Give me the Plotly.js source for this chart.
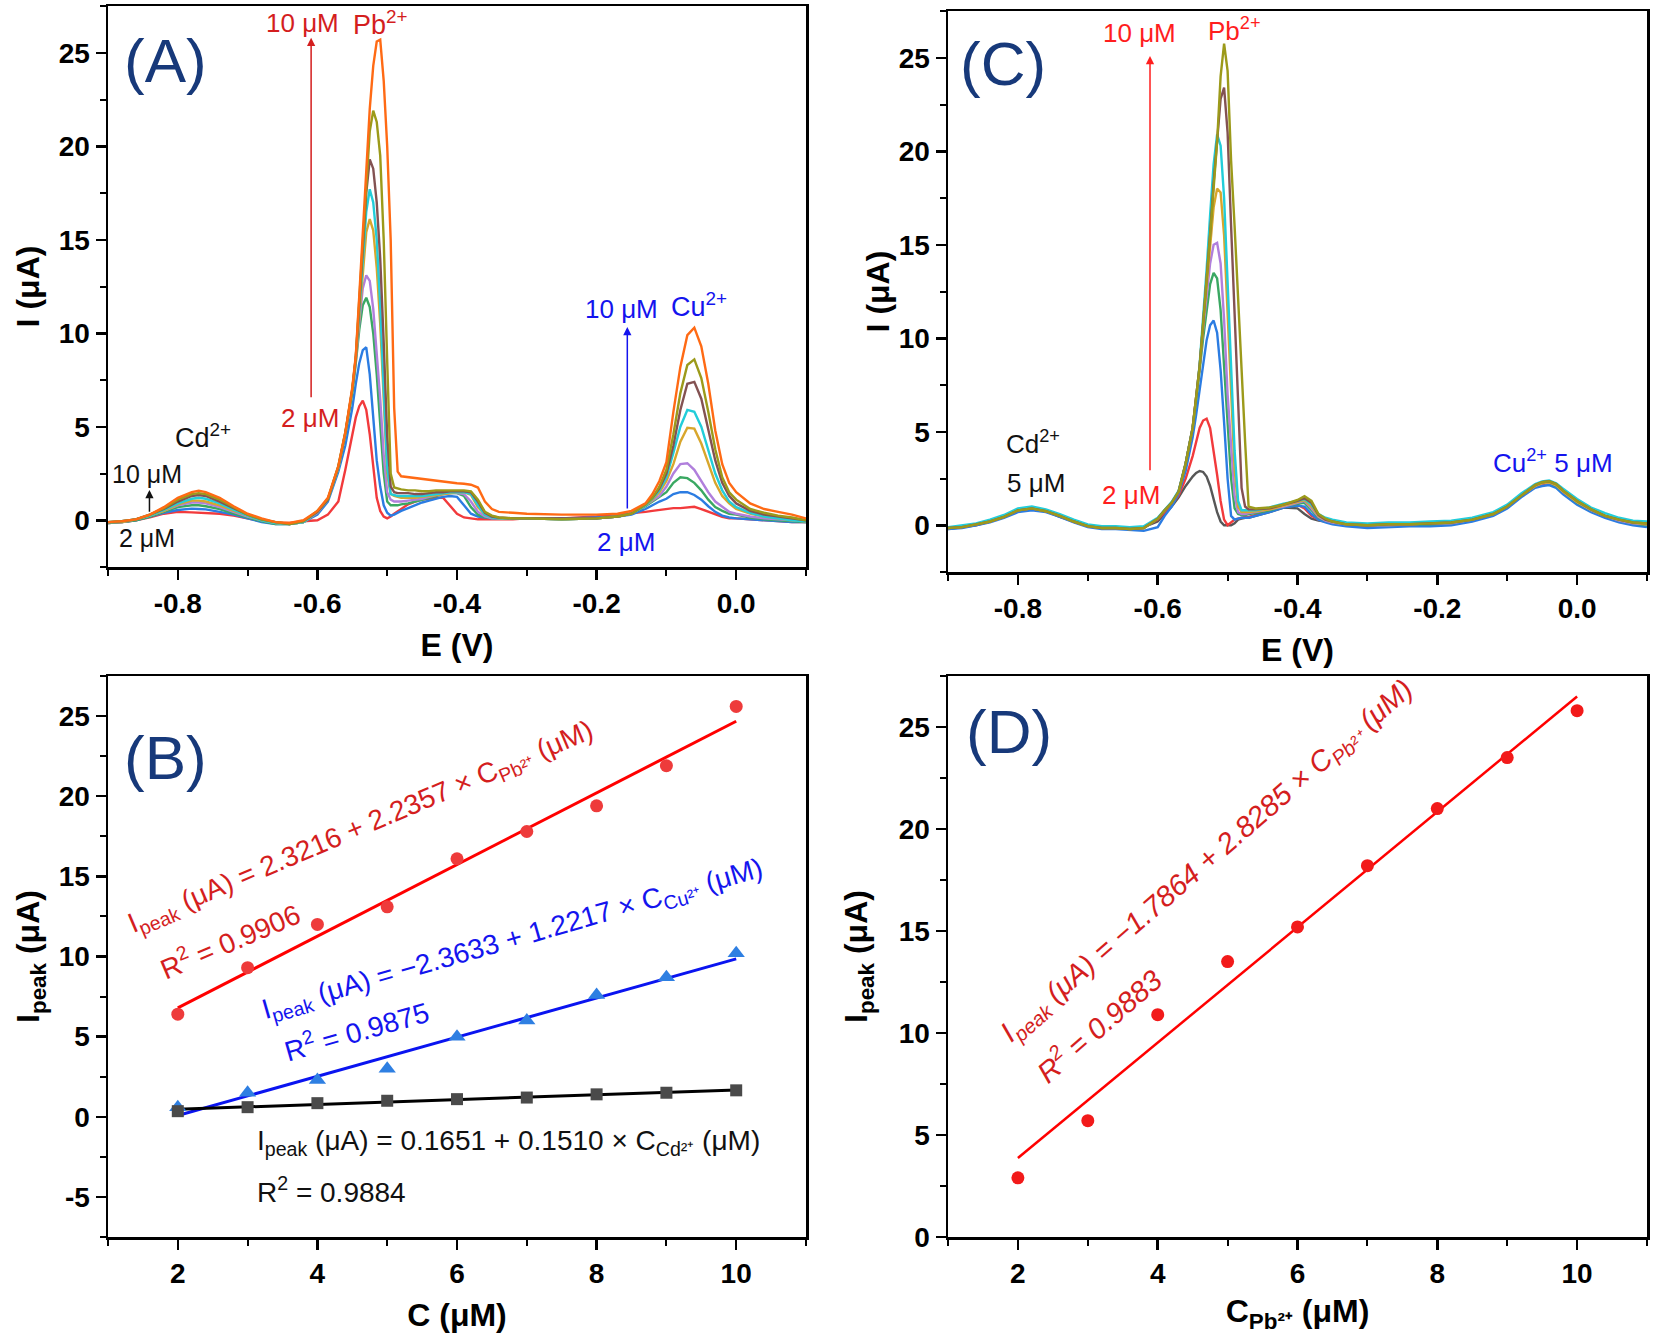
<!DOCTYPE html>
<html><head><meta charset="utf-8">
<script src="https://cdn.plot.ly/plotly-3.0.1.min.js"></script>
<style>html,body{margin:0;padding:0;background:#fff}#chart{width:1654px;height:1340px}</style>
</head><body><div id="chart"></div>
<script>
// ---------- Panel A: SWASV curves, simultaneous (2-10 uM) ----------
const A_E = [
 -0.90,-0.88,-0.86,-0.84,-0.82,-0.80,-0.78,-0.77,-0.76,-0.74,-0.72,-0.70,-0.68,-0.66,-0.64,-0.62,
 -0.60,-0.585,-0.57,-0.56,-0.55,-0.545,-0.54,-0.535,-0.53,-0.525,-0.52,-0.515,-0.51,-0.505,-0.50,-0.495,-0.49,-0.485,-0.48,
 -0.47,-0.46,-0.45,-0.44,-0.43,-0.42,-0.41,-0.40,-0.39,-0.38,-0.37,-0.36,-0.35,-0.34,-0.32,-0.30,
 -0.25,-0.20,-0.17,
 -0.15,-0.13,-0.12,-0.11,-0.10,-0.09,-0.08,-0.07,-0.06,-0.05,-0.04,-0.03,-0.02,-0.01,0.00,0.02,0.04,0.06,0.08,0.10];
const A_I2 = [
 -0.15,-0.1,0.0,0.15,0.35,0.45,0.42,0.4,0.38,0.35,0.25,0.1,-0.05,-0.15,-0.15,-0.05,
 0.0,0.3,1.0,2.7,4.6,5.5,6.1,6.4,5.9,4.6,2.9,1.2,0.5,0.2,0.1,0.2,0.35,0.5,0.6,
 0.85,1.0,1.1,1.15,1.2,1.2,0.8,0.35,0.15,0.1,0.05,0.05,0.05,0.05,0.05,0.1,
 0.1,0.2,0.3,
 0.35,0.45,0.5,0.55,0.6,0.65,0.65,0.7,0.72,0.6,0.45,0.3,0.18,0.1,0.1,0.05,0.0,-0.05,-0.1,-0.1];
const A_I3 = [
 -0.15,-0.1,0.0,0.2,0.4,0.55,0.62,0.6,0.58,0.45,0.3,0.1,-0.1,-0.2,-0.2,-0.1,
 0.3,1.0,2.6,4.0,6.0,7.3,8.4,9.1,9.25,7.8,5.7,3.2,1.8,0.8,0.4,0.25,0.3,0.4,0.5,
 0.65,0.8,0.95,1.05,1.15,1.25,1.3,1.25,0.8,0.35,0.2,0.15,0.1,0.1,0.1,0.1,
 0.1,0.15,0.2,
 0.3,0.6,0.8,1.0,1.15,1.4,1.5,1.5,1.35,1.1,0.75,0.45,0.25,0.15,0.1,0.05,0.0,-0.05,-0.1,-0.1];
const A_I4 = [
 -0.15,-0.1,0.0,0.2,0.45,0.7,0.8,0.8,0.75,0.6,0.35,0.15,-0.05,-0.2,-0.2,-0.1,
 0.4,1.1,2.8,4.6,6.8,8.4,10.2,11.5,11.9,11.4,10.0,7.8,5.2,2.5,1.0,0.8,0.8,0.8,0.85,
 0.9,1.0,1.1,1.2,1.3,1.4,1.45,1.45,1.3,0.7,0.3,0.15,0.1,0.1,0.1,0.1,
 0.05,0.1,0.2,
 0.35,0.75,1.0,1.25,1.5,2.0,2.3,2.25,2.0,1.6,1.1,0.7,0.5,0.35,0.3,0.15,0.05,0.0,-0.05,-0.1];
const A_I5 = [
 -0.1,-0.1,0.05,0.25,0.5,0.8,0.95,0.95,0.9,0.7,0.45,0.2,0.0,-0.15,-0.2,-0.1,
 0.4,1.1,2.8,4.6,6.9,8.5,10.6,12.4,13.1,12.8,11.3,9.0,6.5,3.5,1.5,1.1,1.0,1.0,1.0,
 1.05,1.1,1.15,1.25,1.35,1.4,1.45,1.45,1.4,1.0,0.45,0.2,0.1,0.1,0.1,0.1,
 0.05,0.1,0.2,
 0.35,0.8,1.05,1.3,1.8,2.5,3.0,3.05,2.7,2.1,1.5,1.0,0.7,0.45,0.35,0.2,0.1,0.05,0.0,-0.05];
const A_I6 = [
 -0.1,-0.1,0.05,0.25,0.5,0.85,1.05,1.05,1.0,0.8,0.5,0.25,0.0,-0.15,-0.2,-0.1,
 0.45,1.1,2.8,4.6,6.9,8.6,11.0,13.5,15.4,16.1,15.5,13.5,10.5,6.5,2.5,1.4,1.3,1.25,1.2,
 1.2,1.2,1.25,1.3,1.35,1.4,1.45,1.5,1.5,1.35,0.7,0.3,0.15,0.1,0.1,0.1,
 0.05,0.1,0.2,
 0.35,0.8,1.1,1.5,2.1,3.0,4.2,4.95,4.9,4.1,3.0,2.0,1.3,0.9,0.6,0.35,0.2,0.1,0.0,-0.05];
const A_I7 = [
 -0.1,-0.05,0.05,0.25,0.55,0.9,1.15,1.2,1.15,0.9,0.55,0.25,0.0,-0.15,-0.2,-0.1,
 0.45,1.1,2.8,4.6,6.9,8.6,11.2,14.0,16.5,17.7,17.0,15.0,11.5,7.0,2.8,1.4,1.35,1.3,1.3,
 1.3,1.3,1.3,1.35,1.4,1.45,1.5,1.5,1.5,1.4,0.8,0.3,0.15,0.1,0.1,0.1,
 0.05,0.1,0.2,
 0.35,0.8,1.15,1.6,2.3,3.6,5.0,5.9,5.8,5.0,3.8,2.5,1.6,1.0,0.7,0.4,0.2,0.1,0.0,-0.05];
const A_I8 = [
 -0.1,-0.05,0.05,0.3,0.6,1.0,1.3,1.35,1.3,1.0,0.65,0.3,0.05,-0.1,-0.2,-0.05,
 0.45,1.1,2.85,4.65,7.0,8.7,11.5,14.5,17.5,19.3,18.8,17.0,14.0,9.5,4.5,1.8,1.5,1.45,1.45,
 1.45,1.4,1.4,1.45,1.5,1.5,1.55,1.55,1.55,1.5,1.0,0.4,0.2,0.15,0.1,0.1,
 0.1,0.1,0.2,
 0.35,0.85,1.2,1.7,2.5,4.0,5.9,7.3,7.4,6.5,4.9,3.2,2.0,1.3,0.9,0.5,0.3,0.2,0.1,0.0];
const A_I9 = [
 -0.1,-0.05,0.05,0.3,0.65,1.1,1.4,1.45,1.4,1.1,0.7,0.3,0.05,-0.1,-0.2,-0.05,
 0.5,1.15,2.9,4.7,7.0,8.7,11.8,14.8,18.0,20.8,21.9,21.3,19.5,15.0,8.5,2.5,1.75,1.7,1.65,
 1.6,1.6,1.55,1.55,1.6,1.6,1.6,1.6,1.6,1.55,1.1,0.45,0.25,0.15,0.1,0.1,
 0.05,0.1,0.2,
 0.35,0.85,1.2,1.8,2.7,4.6,6.8,8.3,8.6,7.6,5.8,3.8,2.3,1.5,1.1,0.6,0.4,0.25,0.15,0.0];
const A_I10 = [
 -0.1,-0.05,0.05,0.3,0.7,1.2,1.5,1.58,1.5,1.2,0.75,0.35,0.1,-0.1,-0.15,0.0,
 0.5,1.2,2.9,4.7,7.1,8.8,12.0,15.5,18.5,22.0,24.3,25.6,25.7,23.5,20.0,15.0,6.0,2.6,2.35,
 2.3,2.25,2.2,2.15,2.1,2.05,2.0,1.98,1.95,1.9,1.75,1.0,0.6,0.45,0.4,0.35,
 0.3,0.3,0.35,
 0.5,0.9,1.4,2.1,3.1,5.8,8.2,9.9,10.3,9.3,7.3,4.8,3.0,2.0,1.5,0.9,0.6,0.45,0.3,0.1];

// ---------- Panel C: SWASV curves, Pb varied (2-10 uM), Cd & Cu 5 uM ----------
const C_E = [
 -0.90,-0.88,-0.86,-0.84,-0.82,-0.80,-0.78,-0.76,-0.74,-0.72,-0.70,-0.68,-0.66,-0.64,-0.62,
 -0.60,-0.59,-0.58,-0.57,-0.56,-0.55,-0.545,-0.54,-0.535,-0.53,-0.525,-0.52,-0.515,-0.51,-0.505,-0.50,-0.495,-0.49,-0.485,-0.48,-0.475,-0.47,
 -0.46,-0.44,-0.42,-0.40,-0.39,-0.38,-0.37,-0.36,-0.35,
 -0.33,-0.30,-0.27,-0.24,-0.21,-0.18,-0.15,-0.12,
 -0.10,-0.08,-0.06,-0.05,-0.04,-0.03,-0.02,0.00,0.02,0.04,0.06,0.08,0.10];
const C_I2 = [
 -0.2,-0.1,0.0,0.2,0.45,0.75,0.85,0.75,0.45,0.2,-0.05,-0.15,-0.1,-0.15,-0.1,
 0.2,0.6,1.0,1.5,2.1,2.6,2.8,2.9,2.85,2.6,2.1,1.4,0.7,0.2,0.0,0.0,0.0,0.1,0.3,0.35,0.4,0.4,
 0.5,0.7,0.95,0.9,0.6,0.35,0.25,0.2,0.15,
 0.05,-0.05,0.0,0.05,0.05,0.1,0.3,0.6,
 1.0,1.6,2.1,2.25,2.3,2.1,1.8,1.2,0.8,0.5,0.25,0.1,0.0];
const C_I3 = [
 -0.15,-0.1,0.05,0.2,0.45,0.8,0.9,0.75,0.5,0.2,-0.05,-0.1,-0.15,-0.15,-0.1,
 0.3,0.7,1.1,1.6,2.5,3.7,4.5,5.2,5.6,5.7,5.2,4.0,2.7,1.3,0.3,0.0,0.15,0.3,0.35,0.4,0.45,0.45,
 0.55,0.75,1.0,1.1,0.9,0.5,0.3,0.2,0.15,
 0.05,0.0,0.0,0.05,0.05,0.1,0.3,0.6,
 1.0,1.6,2.1,2.2,2.25,2.1,1.75,1.2,0.8,0.5,0.25,0.1,0.0];
const C_I4 = [
 -0.2,-0.15,0.0,0.15,0.4,0.7,0.8,0.7,0.45,0.15,-0.1,-0.2,-0.2,-0.25,-0.3,
 -0.1,0.5,1.0,1.7,2.9,4.7,5.9,7.3,8.7,9.9,10.7,10.95,10.3,8.3,5.5,2.5,0.5,0.3,0.35,0.4,0.4,0.4,
 0.5,0.7,0.95,1.05,1.0,0.6,0.3,0.15,0.05,
 -0.05,-0.15,-0.1,-0.05,-0.05,0.0,0.2,0.5,
 0.9,1.5,2.0,2.1,2.15,2.0,1.65,1.1,0.7,0.4,0.15,0.0,-0.1];
const C_I5 = [
 -0.15,-0.1,0.05,0.2,0.45,0.8,0.9,0.75,0.5,0.2,-0.05,-0.15,-0.15,-0.2,-0.15,
 0.35,0.8,1.2,1.8,3.3,5.2,6.6,8.3,10.0,11.6,12.9,13.5,13.2,11.5,8.5,5.0,2.5,0.9,0.6,0.55,0.55,0.6,
 0.65,0.8,1.0,1.15,1.2,0.8,0.4,0.25,0.15,
 0.05,0.0,0.0,0.05,0.05,0.1,0.3,0.6,
 1.0,1.6,2.1,2.25,2.3,2.1,1.8,1.2,0.8,0.5,0.25,0.1,0.0];
const C_I6 = [
 -0.15,-0.1,0.05,0.2,0.45,0.8,0.9,0.75,0.5,0.2,-0.05,-0.15,-0.15,-0.2,-0.15,
 0.35,0.8,1.2,1.8,3.3,5.2,6.7,8.5,10.5,12.4,14.0,15.0,15.1,14.0,11.0,7.0,4.0,1.6,0.7,0.6,0.6,0.65,
 0.7,0.85,1.0,1.2,1.3,0.9,0.45,0.25,0.15,
 0.05,0.0,0.0,0.05,0.1,0.1,0.3,0.6,
 1.0,1.6,2.1,2.25,2.3,2.15,1.8,1.25,0.8,0.5,0.25,0.1,0.05];
const C_I7 = [
 -0.15,-0.1,0.05,0.2,0.45,0.8,0.9,0.75,0.5,0.2,-0.05,-0.15,-0.15,-0.2,-0.15,
 0.35,0.8,1.2,1.8,3.3,5.2,6.7,8.5,10.7,12.9,15.2,17.0,18.0,17.8,15.5,11.5,7.0,3.0,1.0,0.7,0.7,0.7,
 0.75,0.85,1.05,1.25,1.35,1.0,0.5,0.3,0.2,
 0.05,0.0,0.05,0.05,0.1,0.15,0.3,0.6,
 1.0,1.6,2.1,2.25,2.3,2.15,1.8,1.25,0.85,0.5,0.3,0.15,0.05];
const C_I8 = [
 -0.1,0.0,0.1,0.3,0.55,0.9,1.0,0.85,0.6,0.3,0.05,-0.05,-0.05,-0.1,-0.05,
 0.4,0.85,1.25,1.85,3.3,5.2,6.7,8.6,10.9,13.7,16.6,19.3,20.9,20.3,17.5,13.0,9.0,4.0,1.3,0.8,0.8,0.8,
 0.8,0.95,1.15,1.3,1.4,1.1,0.6,0.4,0.3,
 0.15,0.1,0.15,0.15,0.2,0.25,0.4,0.7,
 1.1,1.7,2.2,2.35,2.4,2.25,1.95,1.4,0.95,0.65,0.4,0.25,0.2];
const C_I9 = [
 -0.15,-0.1,0.05,0.2,0.45,0.8,0.9,0.75,0.5,0.2,-0.05,-0.15,-0.15,-0.2,-0.15,
 0.35,0.8,1.2,1.8,3.3,5.2,6.7,8.5,10.8,13.0,15.6,18.3,20.8,22.8,23.4,21.0,16.0,11.0,6.0,2.0,1.0,0.85,
 0.85,0.9,1.1,1.3,1.45,1.2,0.55,0.3,0.2,
 0.05,0.0,0.05,0.05,0.1,0.15,0.3,0.6,
 1.0,1.6,2.15,2.3,2.35,2.2,1.85,1.3,0.85,0.5,0.3,0.15,0.1];
const C_I10 = [
 -0.15,-0.1,0.05,0.2,0.45,0.8,0.9,0.75,0.5,0.2,-0.05,-0.15,-0.15,-0.2,-0.15,
 0.35,0.8,1.2,1.8,3.3,5.2,6.7,8.5,10.8,13.0,15.5,18.0,20.5,24.0,25.75,24.3,19.5,16.0,12.0,8.5,4.5,1.0,
 0.9,0.95,1.1,1.35,1.55,1.3,0.6,0.35,0.2,
 0.05,0.0,0.05,0.05,0.1,0.15,0.3,0.6,
 1.0,1.6,2.15,2.3,2.35,2.2,1.85,1.3,0.85,0.5,0.3,0.15,0.1];

// ---------- Panel B: calibration (simultaneous) ----------
const conc = [2,3,4,5,6,7,8,9,10];
const B_Pb = [6.4,9.3,12.0,13.1,16.1,17.8,19.4,21.9,25.6];
const B_Cu = [0.6,1.5,2.3,3.0,5.0,6.0,7.6,8.7,10.2];
const B_Cd = [0.35,0.6,0.85,1.0,1.1,1.2,1.4,1.5,1.65];
const fitPb_B = [2.3216, 2.2357];
const fitCu_B = [-2.3633, 1.2217];
const fitCd_B = [0.1651, 0.1510];
// ---------- Panel D: calibration (Pb only) ----------
const D_Pb = [2.9,5.7,10.9,13.5,15.2,18.2,21.0,23.5,25.8];
const fitPb_D = [-1.7864, 2.8285];
const fitRange = [2, 10];

// ---------- tick labels ----------
const E_tickVals = [-0.8,-0.6,-0.4,-0.2,0.0];
const E_tickText = ['-0.8','-0.6','-0.4','-0.2','0.0'];
const I_tickVals = [0,5,10,15,20,25];
const I_tickText = ['0','5','10','15','20','25'];
const IB_tickVals = [-5,0,5,10,15,20,25];
const IB_tickText = ['-5','0','5','10','15','20','25'];
const C_tickVals = [2,4,6,8,10];
const C_tickText = ['2','4','6','8','10'];

const curveColorsA = ['#F23A3C','#2B7CE2','#3AA862','#B07FDC','#D8A62C','#22CDD9','#835252','#9C9A1A','#FF6A14'];
const curveColorsC = ['#575757','#F23A3C','#2B7CE2','#3AA862','#B07FDC','#D8A62C','#22CDD9','#835252','#9C9A1A'];
const A_sets = [A_I2,A_I3,A_I4,A_I5,A_I6,A_I7,A_I8,A_I9,A_I10];
const C_sets = [C_I2,C_I3,C_I4,C_I5,C_I6,C_I7,C_I8,C_I9,C_I10];

const F = 'Liberation Sans, Arial, Helvetica, sans-serif';
const traces = [];
A_sets.forEach((ys,i)=>traces.push({x:A_E,y:ys,xaxis:'x',yaxis:'y',mode:'lines',line:{color:curveColorsA[i],width:2.4},hoverinfo:'skip'}));
C_sets.forEach((ys,i)=>traces.push({x:C_E,y:ys,xaxis:'x2',yaxis:'y2',mode:'lines',line:{color:curveColorsC[i],width:2.4},hoverinfo:'skip'}));

function fitLine(c){ return fitRange.map(x=>c[0]+c[1]*x); }
// B
traces.push({x:fitRange,y:fitLine(fitPb_B),xaxis:'x3',yaxis:'y3',mode:'lines',line:{color:'#FF0000',width:3}});
traces.push({x:fitRange,y:fitLine(fitCu_B),xaxis:'x3',yaxis:'y3',mode:'lines',line:{color:'#0A14F0',width:3}});
traces.push({x:fitRange,y:fitLine(fitCd_B),xaxis:'x3',yaxis:'y3',mode:'lines',line:{color:'#000000',width:3}});
traces.push({x:conc,y:B_Pb,xaxis:'x3',yaxis:'y3',mode:'markers',marker:{symbol:'circle',size:13,color:'#EE3B3B'}});
traces.push({x:conc,y:B_Cu,xaxis:'x3',yaxis:'y3',mode:'markers',marker:{symbol:'triangle-up',size:15,color:'#2E7FE2'}});
traces.push({x:conc,y:B_Cd,xaxis:'x3',yaxis:'y3',mode:'markers',marker:{symbol:'square',size:12,color:'#4A4A4A'}});
// D
traces.push({x:fitRange,y:fitLine(fitPb_D),xaxis:'x4',yaxis:'y4',mode:'lines',line:{color:'#FF0000',width:2.5}});
traces.push({x:conc,y:D_Pb,xaxis:'x4',yaxis:'y4',mode:'markers',marker:{symbol:'circle',size:13,color:'#F21A1A'}});

function axis(extra){
  return Object.assign({
    showline:true, linecolor:'black', linewidth:2.5, mirror:true,
    ticks:'outside', ticklen:10, tickwidth:2.5, tickcolor:'black',
    showgrid:false, zeroline:false, fixedrange:true,
    tickfont:{family:F,size:28,color:'black',weight:'bold'},
  }, extra);
}
function ttl(text, standoff){
  return {text:text, standoff:standoff, font:{family:F,size:32,color:'black',weight:'bold'}};
}
const minorE = {tickmode:'linear',tick0:0,dtick:0.1,ticks:'outside',ticklen:6,tickwidth:2,tickcolor:'black'};
const minorI = {tickmode:'linear',tick0:0,dtick:2.5,ticks:'outside',ticklen:6,tickwidth:2,tickcolor:'black'};
const minorC = {tickmode:'linear',tick0:0,dtick:1,ticks:'outside',ticklen:6,tickwidth:2,tickcolor:'black'};

const L = [108/1654, 806/1654], R = [948/1654, 1647/1654];
const layout = {
  width:1654, height:1340, margin:{l:0,r:0,t:0,b:0},
  paper_bgcolor:'white', plot_bgcolor:'white', showlegend:false,
  font:{family:F,color:'black'},
  xaxis: axis({domain:L, anchor:'y', range:[-0.9,0.1], tickmode:'array', tickvals:E_tickVals, ticktext:E_tickText, minor:minorE, title:ttl('E (V)',16)}),
  yaxis: axis({domain:[1-567/1340,1-6/1340], anchor:'x', range:[-2.5,27.5], tickmode:'array', tickvals:I_tickVals, ticktext:I_tickText, minor:minorI, title:ttl('I (μA)',10)}),
  xaxis2: axis({domain:R, anchor:'y2', range:[-0.9,0.1], tickmode:'array', tickvals:E_tickVals, ticktext:E_tickText, minor:minorE, title:ttl('E (V)',16)}),
  yaxis2: axis({domain:[1-572/1340,1-11/1340], anchor:'x2', range:[-2.5,27.5], tickmode:'array', tickvals:I_tickVals, ticktext:I_tickText, minor:minorI, title:ttl('I (μA)',0)}),
  xaxis3: axis({domain:L, anchor:'y3', range:[1,11], tickmode:'array', tickvals:C_tickVals, ticktext:C_tickText, minor:minorC, title:ttl('C (μM)',16)}),
  yaxis3: axis({domain:[1-1237/1340,1-676/1340], anchor:'x3', range:[-7.5,27.5], tickmode:'array', tickvals:IB_tickVals, ticktext:IB_tickText, minor:minorI, title:ttl('I<sub>peak</sub> (μA)',10)}),
  xaxis4: axis({domain:R, anchor:'y4', range:[1,11], tickmode:'array', tickvals:C_tickVals, ticktext:C_tickText, minor:minorC, title:ttl('C<sub>Pb²⁺</sub> (μM)',12)}),
  yaxis4: axis({domain:[1-1237/1340,1-676/1340], anchor:'x4', range:[0,27.5], tickmode:'array', tickvals:I_tickVals, ticktext:I_tickText, minor:minorI, title:ttl('I<sub>peak</sub> (μA)',22)}),
  annotations:[]
};

const RED_A='#D41E1E', RED_C='#FF1E1E', BLUE='#1414EE', NAVY='#17397A';
function txt(xr,yr,x,y,text,color,size,extra){
  return Object.assign({xref:xr,yref:yr,x:x,y:y,text:text,showarrow:false,
    font:{family:F,size:size,color:color},xanchor:'center',yanchor:'middle'},extra||{});
}
function arrow(xr,yr,x,y0,y1,color,w){
  return {xref:xr,yref:yr,axref:xr,ayref:yr,x:x,y:y1,ax:x,ay:y0,text:'',showarrow:true,
    arrowhead:2,arrowsize:1.1,arrowwidth:w,arrowcolor:color};
}
const A = layout.annotations;
// Panel A
A.push(txt('x','y',-0.817,24.6,'(A)',NAVY,62));
A.push(txt('x','y',-0.622,26.6,'10 μM',RED_A,26));
A.push(txt('x','y',-0.510,26.6,'Pb<sup>2+</sup>',RED_A,27));
A.push(arrow('x','y',-0.609,6.5,25.8,RED_A,1.5));
A.push(txt('x','y',-0.61,5.45,'2 μM',RED_A,26));
A.push(txt('x','y',-0.764,4.5,'Cd<sup>2+</sup>',"#111",27));
A.push(txt('x','y',-0.8445,2.45,'10 μM','#111',25));
A.push(arrow('x','y',-0.8406,0.37,1.62,'#111',1.5));
A.push(txt('x','y',-0.8445,-0.96,'2 μM','#111',25));
A.push(arrow('x','y',-0.156,0.55,10.34,BLUE,1.5));
A.push(txt('x','y',-0.165,11.3,'10 μM',BLUE,26));
A.push(txt('x','y',-0.053,11.5,'Cu<sup>2+</sup>',BLUE,27));
A.push(txt('x','y',-0.158,-1.14,'2 μM',BLUE,26));
// Panel C
A.push(txt('x2','y2',-0.8215,24.67,'(C)',NAVY,62));
A.push(txt('x2','y2',-0.6266,26.3,'10 μM',RED_C,26));
A.push(txt('x2','y2',-0.4905,26.5,'Pb<sup>2+</sup>',RED_C,26));
A.push(arrow('x2','y2',-0.611,2.86,25.1,RED_C,1.5));
A.push(txt('x2','y2',-0.6386,1.62,'2 μM',RED_C,26));
A.push(txt('x2','y2',-0.7785,4.4,'Cd<sup>2+</sup>','#111',26));
A.push(txt('x2','y2',-0.7747,2.24,'5 μM','#111',26));
A.push(txt('x2','y2',-0.0345,3.4,'Cu<sup>2+</sup> 5 μM',BLUE,26));
// Panel B
A.push(txt('x3','y3',1.83,22.4,'(B)',NAVY,62));
A.push(txt('x3','y3',4.62,18.0,'I<sub>peak</sub> (μA) = 2.3216 + 2.2357 × C<sub>Pb²⁺</sub> (μM)',RED_A,28,{textangle:-23}));
A.push(txt('x3','y3',2.74,11.05,'R<sup>2</sup> = 0.9906',RED_A,28,{textangle:-23}));
A.push(txt('x3','y3',6.8,11.0,'I<sub>peak</sub> (μA) = −2.3633 + 1.2217 × C<sub>Cu²⁺</sub> (μM)',BLUE,28,{textangle:-16}));
A.push(txt('x3','y3',4.56,5.4,'R<sup>2</sup> = 0.9875',BLUE,28,{textangle:-16}));
A.push(txt('x3','y3',3.1,-1.6,'I<sub>peak</sub> (μA) = 0.1651 + 0.1510 × C<sub>Cd²⁺</sub> (μM)','#111',28,{xanchor:'left'}));
A.push(txt('x3','y3',3.1,-4.55,'R<sup>2</sup> = 0.9884','#111',28,{xanchor:'left'}));
// Panel D
A.push(txt('x4','y4',1.87,24.8,'(D)',NAVY,62));
A.push(txt('x4','y4',4.71,18.4,'<i>I<sub>peak</sub> (μA) = −1.7864 + 2.8285 × C<sub>Pb²⁺</sub> (μM)</i>',RED_A,29,{textangle:-41}));
A.push(txt('x4','y4',3.14,10.4,'<i>R<sup>2</sup> = 0.9883</i>',RED_A,29,{textangle:-41}));

Plotly.newPlot('chart',traces,layout,{displayModeBar:false,staticPlot:true});
</script></body></html>
